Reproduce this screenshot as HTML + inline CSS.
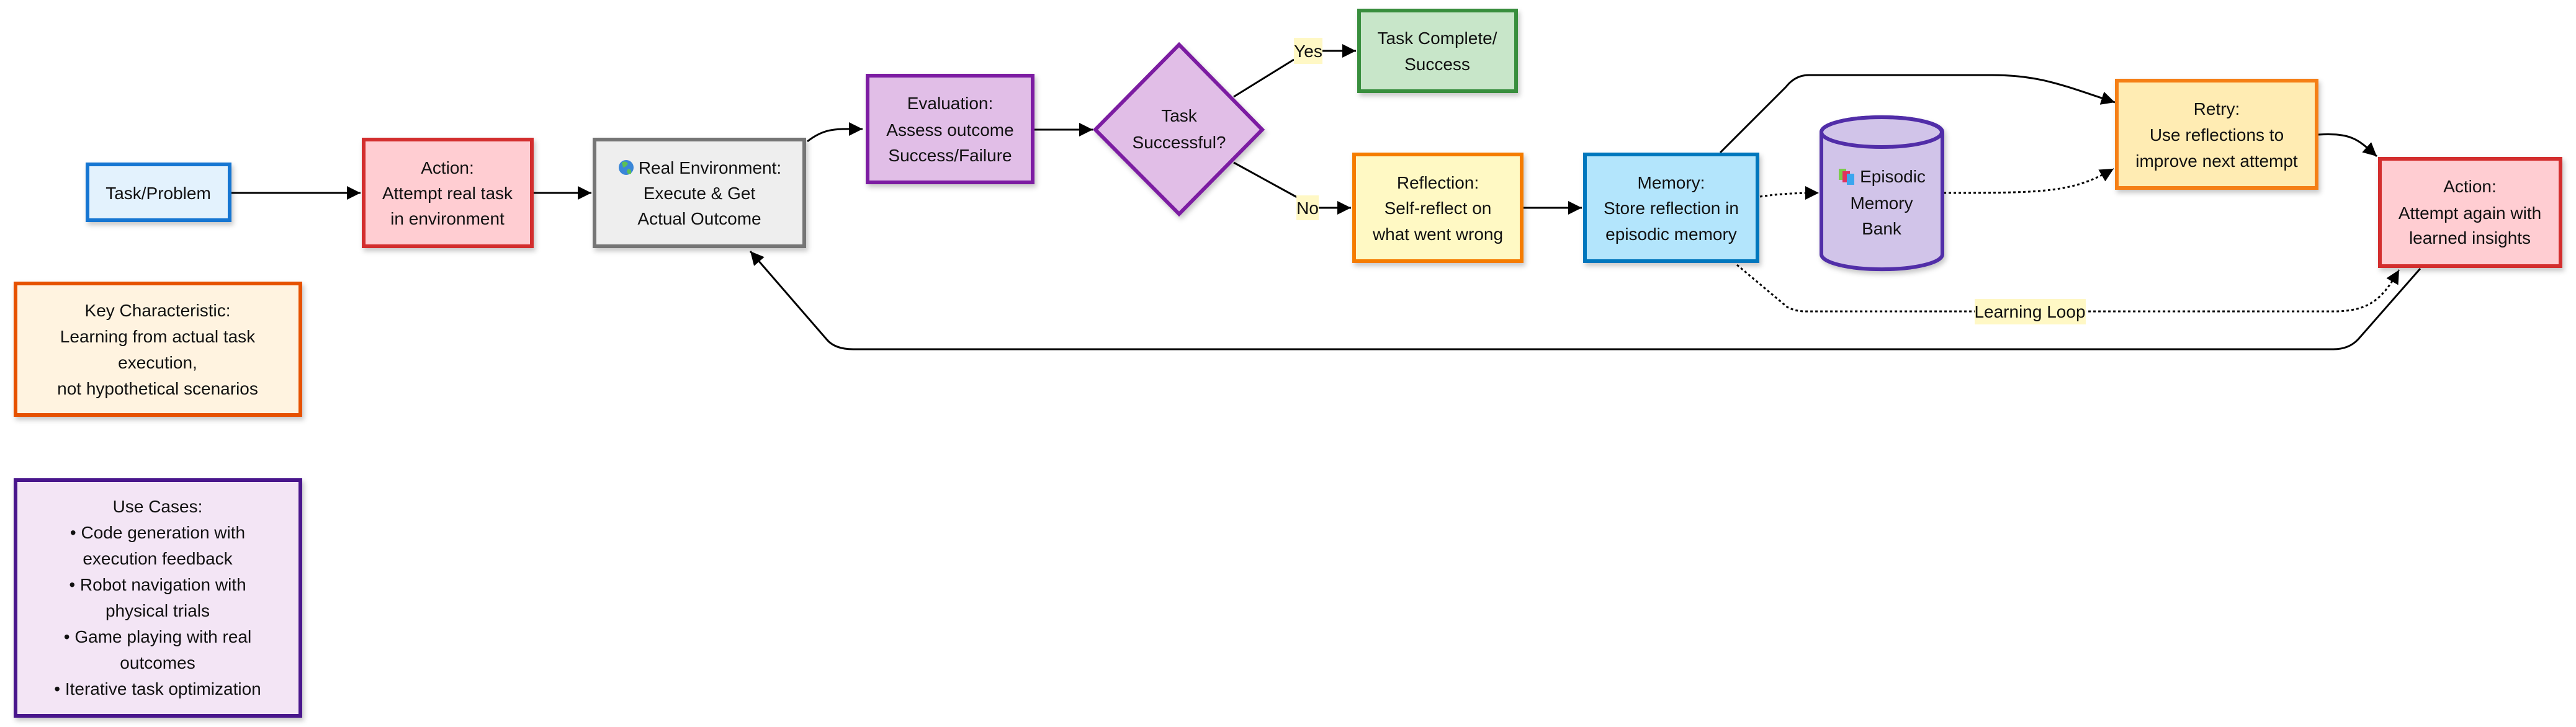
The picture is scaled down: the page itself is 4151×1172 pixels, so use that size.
<!DOCTYPE html>
<html><head><meta charset="utf-8"><style>
html,body{margin:0;padding:0;background:#fff;}
svg{display:block;}
text{font-family:"Liberation Sans",Arial,sans-serif;font-size:28px;fill:#111;text-anchor:middle;}
</style></head><body>
<svg width="4151" height="1172" viewBox="0 0 4151 1172" xmlns="http://www.w3.org/2000/svg">
<defs>
<marker id="ah" viewBox="0 0 10 10" refX="10" refY="5" markerWidth="22" markerHeight="24" markerUnits="userSpaceOnUse" orient="auto"><path d="M0,0 L10,5 L0,10 z" fill="#000"/></marker>
<filter id="sh" x="-10%" y="-10%" width="125%" height="125%"><feDropShadow dx="3" dy="5" stdDeviation="4" flood-color="#000" flood-opacity="0.22"/></filter>
</defs>

<!-- edges -->
<g fill="none" stroke="#000" stroke-width="3">
<path d="M373,311 L581,311" marker-end="url(#ah)"/>
<path d="M860,311 L953,311" marker-end="url(#ah)"/>
<path d="M1301,228 C1330,205 1350,208 1390,208" marker-end="url(#ah)"/>
<path d="M1667,209 L1761,209" marker-end="url(#ah)"/>
<path d="M1988,156 L2085,96"/>
<path d="M2131,82 L2185,82" marker-end="url(#ah)"/>
<path d="M1988,262 L2090,318"/>
<path d="M2125,335 L2177,335" marker-end="url(#ah)"/>
<path d="M2455,335 L2549,335" marker-end="url(#ah)"/>
<path d="M2772,246 L2878,140 Q2893,121 2915,121 L3210,121 C3290,121 3330,140 3408,165" marker-end="url(#ah)"/>
<path d="M3736,217 C3790,214 3800,225 3830,252" marker-end="url(#ah)"/>
<path d="M3900,433 L3800,547 Q3785,563 3760,563 L1375,563 Q1345,563 1332,547 L1209,405" marker-end="url(#ah)"/>
</g>
<g fill="none" stroke="#000" stroke-width="3" stroke-dasharray="4 4">
<path d="M2836,317 C2870,312 2900,311 2931,311" marker-end="url(#ah)"/>
<path d="M3132,311 C3300,311 3340,310 3406,272" marker-end="url(#ah)"/>
<path d="M2799,427 L2880,495 Q2893,502 2910,502 L3760,502 C3820,502 3840,480 3866,435" marker-end="url(#ah)"/>
</g>

<!-- labels -->
<rect x="2085" y="61" width="46" height="42" fill="#FFF8C5"/>
<text x="2108" y="92">Yes</text>
<rect x="2089" y="315" width="36" height="40" fill="#FFF8C5"/>
<text x="2107" y="345">No</text>
<rect x="3182" y="482" width="179" height="41" fill="#FFF8C5"/>
<text x="3271" y="512">Learning Loop</text>

<!-- nodes -->
<g stroke-width="6" filter="url(#sh)">
<rect x="141" y="265" width="229" height="90" fill="#E3F2FD" stroke="#1976D2"/>
<rect x="586" y="225" width="271" height="172" fill="#FFCDD2" stroke="#D32F2F"/>
<rect x="958" y="225" width="338" height="172" fill="#EEEEEE" stroke="#757575"/>
<rect x="1398" y="122" width="266" height="172" fill="#E1BEE7" stroke="#7B1FA2"/>
<polygon points="1900,72 2034,209 1900,345 1765,209" fill="#E1BEE7" stroke="#7B1FA2"/>
<rect x="2190" y="17" width="253" height="130" fill="#C8E6C9" stroke="#388E3C"/>
<rect x="2182" y="249" width="270" height="172" fill="#FFF9C4" stroke="#F57C00"/>
<rect x="2554" y="249" width="278" height="172" fill="#B3E5FC" stroke="#0277BD"/>
<rect x="3411" y="130" width="322" height="173" fill="#FFECB3" stroke="#F57F17"/>
<rect x="3835" y="256" width="291" height="173" fill="#FFCDD2" stroke="#D32F2F"/>
<rect x="25" y="457" width="459" height="212" fill="#FFF3E0" stroke="#E65100"/>
<rect x="25" y="774" width="459" height="380" fill="#F3E5F5" stroke="#4A148C"/>
<path d="M2935,213 L2935,410 A97,24 0 0 0 3130,410 L3130,213 A97,24 0 0 0 2935,213 Z" fill="#D1C4E9" stroke="#512DA8"/>
</g>
<ellipse cx="3032" cy="213" rx="97" ry="24" fill="#D1C4E9" stroke="#512DA8" stroke-width="6"/>

<!-- texts -->
<text x="255" y="321">Task/Problem</text>
<text x="721" y="280">Action:</text><text x="721" y="321">Attempt real task</text><text x="721" y="362">in environment</text>
<circle cx="1009" cy="270" r="12" fill="#3a86d8"/><path d="M1002,262 q6,-4 10,2 q-4,6 -8,6 z M1012,272 q6,0 5,8 q-6,2 -7,-4 z" fill="#5cbf55"/>
<text x="1144" y="280">Real Environment:</text><text x="1127" y="321">Execute &amp; Get</text><text x="1127" y="362">Actual Outcome</text>
<text x="1531" y="176">Evaluation:</text><text x="1531" y="219">Assess outcome</text><text x="1531" y="260">Success/Failure</text>
<text x="1900" y="196">Task</text><text x="1900" y="239">Successful?</text>
<text x="2316" y="71">Task Complete/</text><text x="2316" y="113">Success</text>
<text x="2317" y="304">Reflection:</text><text x="2317" y="345">Self-reflect on</text><text x="2317" y="387">what went wrong</text>
<text x="2693" y="304">Memory:</text><text x="2693" y="345">Store reflection in</text><text x="2693" y="387">episodic memory</text>
<rect x="2963" y="272" width="12" height="18" fill="#7ccc4c"/><rect x="2969" y="276" width="12" height="18" fill="#e0335f"/><rect x="2976" y="280" width="12" height="18" fill="#3aa6ef"/>
<text x="3050" y="294">Episodic</text><text x="3032" y="337">Memory</text><text x="3032" y="378">Bank</text>
<text x="3572" y="185">Retry:</text><text x="3572" y="227">Use reflections to</text><text x="3572" y="269">improve next attempt</text>
<text x="3980" y="310">Action:</text><text x="3980" y="353">Attempt again with</text><text x="3980" y="393">learned insights</text>
<text x="254" y="510">Key Characteristic:</text><text x="254" y="552">Learning from actual task</text><text x="254" y="594">execution,</text><text x="254" y="636">not hypothetical scenarios</text>
<text x="254" y="826">Use Cases:</text>
<text x="254" y="868">• Code generation with</text>
<text x="254" y="910">execution feedback</text>
<text x="254" y="952">• Robot navigation with</text>
<text x="254" y="994">physical trials</text>
<text x="254" y="1036">• Game playing with real</text>
<text x="254" y="1078">outcomes</text>
<text x="254" y="1120">• Iterative task optimization</text>
</svg>
</body></html>
